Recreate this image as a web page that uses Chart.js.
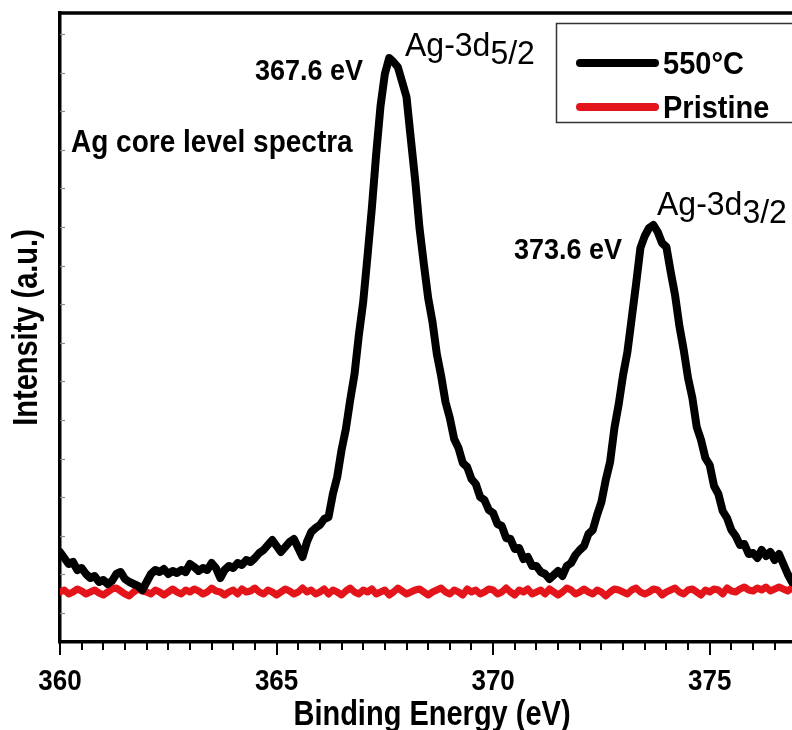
<!DOCTYPE html>
<html>
<head>
<meta charset="utf-8">
<script src="https://cdn.jsdelivr.net/npm/chart.js@4.4.1/dist/chart.umd.min.js"></script>
<style>
  html, body { margin: 0; padding: 0; background: #fff; }
  canvas { display: block; }
</style>
</head>
<body>
<canvas id="xps" width="792" height="730"></canvas>
<script>
// binding energy grid (eV)
const energy = [
  360.0,360.1,360.2,360.3,360.4,360.5,360.6,360.7,360.8,360.9,
  361.0,361.1,361.2,361.3,361.4,361.5,361.6,361.7,361.8,361.9,
  362.0,362.1,362.2,362.3,362.4,362.5,362.6,362.7,362.8,362.9,
  363.0,363.1,363.2,363.3,363.4,363.5,363.6,363.7,363.8,363.9,
  364.0,364.1,364.2,364.3,364.4,364.5,364.6,364.7,364.8,364.9,
  365.0,365.1,365.2,365.3,365.4,365.5,365.6,365.7,365.8,365.9,
  366.0,366.1,366.2,366.3,366.4,366.5,366.6,366.7,366.8,366.9,
  367.0,367.1,367.2,367.3,367.4,367.5,367.6,367.7,367.8,367.9,
  368.0,368.1,368.2,368.3,368.4,368.5,368.6,368.7,368.8,368.9,
  369.0,369.1,369.2,369.3,369.4,369.5,369.6,369.7,369.8,369.9,
  370.0,370.1,370.2,370.3,370.4,370.5,370.6,370.7,370.8,370.9,
  371.0,371.1,371.2,371.3,371.4,371.5,371.6,371.7,371.8,371.9,
  372.0,372.1,372.2,372.3,372.4,372.5,372.6,372.7,372.8,372.9,
  373.0,373.1,373.2,373.3,373.4,373.5,373.6,373.7,373.8,373.9,
  374.0,374.1,374.2,374.3,374.4,374.5,374.6,374.7,374.8,374.9,
  375.0,375.1,375.2,375.3,375.4,375.5,375.6,375.7,375.8,375.9,
  376.0,376.1,376.2,376.3,376.4,376.5,376.6,376.7,376.8,376.9
];

// intensity (a.u.) of the 550 C sample
const annealed = [
  90,84,78,80,72,74,68,64,66,60,
  62,58,61,68,70,63,60,58,56,52,
  60,68,72,70,73,68,71,69,72,70,
  78,75,71,74,72,79,74,64,72,76,
  74,79,77,82,80,84,89,92,97,102,
  96,90,95,100,103,94,85,100,110,114,
  117,123,125,148,165,192,213,242,268,307,
  340,386,434,488,536,568,584,580,575,560,
  545,503,462,414,378,344,320,288,266,240,
  224,203,194,179,175,163,158,145,142,132,
  129,118,116,104,103,93,94,83,85,76,
  76,70,68,63,67,71,66,76,79,87,
  92,96,108,112,127,140,162,180,214,238,
  267,290,324,358,394,406,414,417,410,399,
  395,370,347,316,292,264,244,215,202,184,
  177,156,148,131,124,112,106,97,98,88,
  89,84,92,86,90,82,88,78,68,60
];

// intensity (a.u.) of the pristine sample
const pristine = [
  50,52,48,50,53,51,48,50,52,49,
  47,50,53,54,51,48,46,50,53,51,
  50,48,52,50,47,50,53,50,48,52,
  50,53,51,48,50,54,51,50,47,50,
  52,48,53,50,51,54,50,48,52,50,
  47,50,53,51,48,50,54,50,52,48,
  50,53,48,52,50,47,51,54,50,48,
  52,50,53,48,50,52,47,50,54,51,
  48,50,52,53,50,47,50,52,54,50,
  48,52,50,47,53,50,52,48,50,53,
  52,48,50,54,50,47,52,50,53,48,
  50,52,48,53,50,47,50,54,52,48,
  50,53,50,48,52,50,46,50,53,52,
  50,48,52,54,50,48,50,53,52,47,
  50,52,54,50,48,52,53,50,47,52,
  50,53,52,48,54,51,50,53,55,52,
  51,54,52,55,51,53,55,53,51,54
];

const seriesNames = ['550°C', 'Pristine'];
const xMajorTicks = [360, 365, 370, 375];
const yMinorTicks = [29, 68, 106, 145, 183, 222, 261, 299, 338, 376, 415, 454, 492, 531, 569, 608];

const FONT = '"Liberation Sans", Arial, Helvetica, sans-serif';

const toPoints = vals => energy.map((e, i) => ({ x: e, y: vals[i] }));

// the original lettering is a tall, narrow Arial; stretch it a bit vertically
function tallText(ctx, text, x, y, font, align, sy, angle) {
  ctx.save();
  ctx.translate(x, y);
  if (angle) ctx.rotate(angle);
  ctx.scale(1, sy);
  ctx.font = font;
  ctx.textAlign = align;
  ctx.textBaseline = 'alphabetic';
  ctx.fillStyle = '#000';
  ctx.fillText(text, 0, 0);
  const w = ctx.measureText(text).width;
  ctx.restore();
  return w;
}

// ticks, frame, labels, peak names and the boxed legend
const decor = {
  id: 'decor',
  afterDraw(chart) {
    const ctx = chart.ctx;
    const a = chart.chartArea;
    const xs = chart.scales.x;
    const ys = chart.scales.y;
    ctx.save();

    // top frame line
    ctx.strokeStyle = '#000';
    ctx.lineWidth = 3.5;
    ctx.beginPath();
    ctx.moveTo(a.left - 1.5, a.top);
    ctx.lineTo(a.right + 2, a.top);
    ctx.stroke();

    // x ticks, major every 5, minor every 0.5
    ctx.lineWidth = 2;
    for (let v = xs.min; v <= xs.max + 1e-6; v += 0.5) {
      const px = Math.round(xs.getPixelForValue(v));
      const major = xMajorTicks.some(t => Math.abs(t - v) < 1e-6);
      ctx.beginPath();
      ctx.moveTo(px, a.bottom);
      ctx.lineTo(px, a.bottom + (major ? 13 : 8));
      ctx.stroke();
    }

    // faint inner ticks on the intensity axis
    ctx.strokeStyle = '#8a8a8a';
    ctx.lineWidth = 1.2;
    yMinorTicks.forEach(v => {
      const py = Math.round(ys.getPixelForValue(v)) + 0.5;
      ctx.beginPath();
      ctx.moveTo(a.left, py);
      ctx.lineTo(a.left + 5, py);
      ctx.stroke();
    });

    // x tick labels from the scale's own ticks
    xs.ticks.forEach(t => {
      tallText(ctx, String(t.value), xs.getPixelForValue(t.value), 690,
        'bold 26px ' + FONT, 'center', 1.12);
    });

    // axis titles
    tallText(ctx, 'Binding Energy (eV)', (a.left + a.right) / 2 + 6, 725,
      'bold 29px ' + FONT, 'center', 1.2);
    tallText(ctx, 'Intensity (a.u.)', 37, (a.top + a.bottom) / 2,
      'bold 29px ' + FONT, 'center', 1.2, -Math.PI / 2);

    // annotations
    tallText(ctx, '367.6 eV', 363, 80, 'bold 27px ' + FONT, 'right', 1.1);
    tallText(ctx, '373.6 eV', 622, 259, 'bold 27px ' + FONT, 'right', 1.1);
    tallText(ctx, 'Ag core level spectra', 71, 152, 'bold 28px ' + FONT, 'left', 1.1);

    // peak names with subscripts
    const peakName = (main, sub, x, y) => {
      const w = tallText(ctx, main, x, y, '32px ' + FONT, 'left', 1.05);
      tallText(ctx, sub, x + w, y + 8, '32px ' + FONT, 'left', 1.05);
    };
    peakName('Ag-3d', '5/2', 405, 56);
    peakName('Ag-3d', '3/2', 657, 215);

    // legend box
    ctx.strokeStyle = '#333';
    ctx.lineWidth = 1.5;
    ctx.strokeRect(556.5, 23.5, 260, 99);
    const colors = chart.data.datasets.map(d => d.borderColor);
    const rowsY = [63, 107];
    ctx.lineCap = 'round';
    rowsY.forEach((ry, i) => {
      ctx.strokeStyle = colors[i];
      ctx.lineWidth = 8;
      ctx.beginPath();
      ctx.moveTo(580, ry);
      ctx.lineTo(655, ry);
      ctx.stroke();
      tallText(ctx, seriesNames[i], 663, ry + 11, 'bold 29px ' + FONT, 'left', 1.08);
    });

    ctx.restore();
  }
};

new Chart(document.getElementById('xps'), {
  type: 'line',
  data: {
    datasets: [
      {
        label: seriesNames[0],
        data: toPoints(annealed),
        borderColor: '#000000',
        borderWidth: 8,
        pointRadius: 0,
        tension: 0,
        borderJoinStyle: 'round',
        borderCapStyle: 'round'
      },
      {
        label: seriesNames[1],
        data: toPoints(pristine),
        borderColor: '#e4141b',
        borderWidth: 7,
        pointRadius: 0,
        tension: 0,
        borderJoinStyle: 'round',
        borderCapStyle: 'round'
      }
    ]
  },
  options: {
    responsive: false,
    animation: false,
    devicePixelRatio: 1,
    layout: { padding: { top: 13, right: 0, left: 0, bottom: 0 } },
    plugins: {
      legend: { display: false },
      tooltip: { enabled: false }
    },
    scales: {
      x: {
        type: 'linear',
        min: 360,
        max: 376.9,
        grid: { display: false, drawTicks: false },
        border: { display: true, color: '#000', width: 3.5 },
        ticks: { stepSize: 5, includeBounds: false, display: false },
        afterFit(scale) { scale.height = 88; }
      },
      y: {
        min: 0,
        max: 629,
        grid: { display: false, drawTicks: false },
        border: { display: true, color: '#000', width: 3.5 },
        ticks: { display: false },
        afterFit(scale) { scale.width = 60; }
      }
    }
  },
  plugins: [decor]
});
</script>
</body>
</html>
